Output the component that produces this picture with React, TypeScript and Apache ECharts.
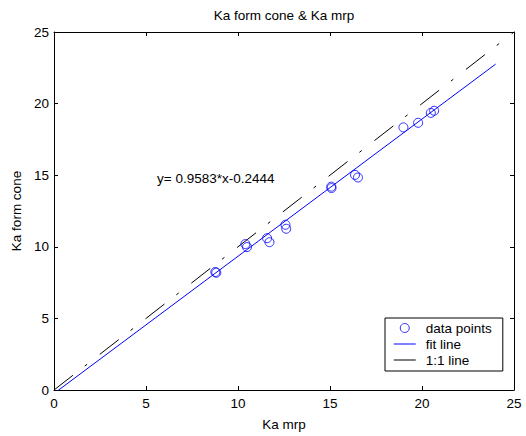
import React, { useEffect, useRef } from "react";
import * as echarts from "echarts";

// Data
const kaMrp = [8.77, 8.82, 10.4, 10.49, 11.58, 11.71, 12.58, 12.62, 15.07, 15.08, 16.36, 16.52, 18.99, 19.79, 20.48, 20.66];
const kaCone = [8.24, 8.19, 10.19, 9.98, 10.6, 10.32, 11.54, 11.26, 14.2, 14.1, 15.02, 14.84, 18.34, 18.66, 19.35, 19.5];
const fitSlope = 0.9583;
const fitIntercept = -0.2444;
const fitXRange = [0, 24];
const oneToOneRange = [0, 25];
const axisMin = 0;
const axisMax = 25;
const axisInterval = 5;
const titleText = "Ka form cone & Ka mrp";
const xName = "Ka mrp";
const yName = "Ka form cone";
const legendNames = ["data points", "fit line", "1:1 line"];
const equationText = `y= ${fitSlope}*x${fitIntercept}`;

const FONT = "'Liberation Sans', Arial, Helvetica, sans-serif";
const FS = 13.5;

export default function App() {
  const ref = useRef<HTMLDivElement>(null);
  useEffect(() => {
    if (!ref.current) return;
    const chart = echarts.init(ref.current, undefined, { renderer: "svg" });
    const points = kaMrp.map((x, i) => [x, kaCone[i]]);
    const fitLine = fitXRange.map((x) => [x, fitSlope * x + fitIntercept]);
    const idLine = oneToOneRange.map((x) => [x, x]);
    const axisCommon = {
      type: "value",
      min: axisMin,
      max: axisMax,
      interval: axisInterval,
      splitLine: { show: false },
      axisLine: { show: true, onZero: false, lineStyle: { color: "#000", width: 1 } },
      axisTick: { show: true, inside: true, length: 4, lineStyle: { color: "#000" } },
    };
    const hiddenSymbol = { color: "rgba(0,0,0,0)", borderWidth: 0, opacity: 0 };
    chart.setOption({
      animation: false,
      textStyle: { fontFamily: FONT },
      grid: { left: 54, right: 12, top: 32, bottom: 40 },
      xAxis: [
        {
          ...axisCommon,
          position: "bottom",
          name: xName,
          nameLocation: "middle",
          nameGap: 27,
          nameTextStyle: { color: "#000", fontSize: FS, fontFamily: FONT },
          axisLabel: { color: "#000", fontSize: FS, fontFamily: FONT, margin: 6 },
        },
        {
          ...axisCommon,
          position: "top",
          axisLabel: { show: false },
        },
      ],
      yAxis: [
        {
          ...axisCommon,
          position: "left",
          name: yName,
          nameLocation: "middle",
          nameGap: 22,
          nameTextStyle: { color: "#000", fontSize: FS, fontFamily: FONT },
          axisLabel: { color: "#000", fontSize: FS, fontFamily: FONT, margin: 5 },
        },
        {
          ...axisCommon,
          position: "right",
          axisLabel: { show: false },
        },
      ],
      legend: {
        orient: "vertical",
        left: 385,
        top: 318,
        backgroundColor: "#fff",
        borderColor: "#000",
        borderWidth: 1,
        borderRadius: 0,
        padding: [3, 11, 4, 8],
        itemWidth: 22,
        itemHeight: 9,
        itemGap: 2,
        textStyle: { color: "#000", fontSize: FS, fontFamily: FONT, padding: [0, 0, 0, 5] },
        data: [
          { name: legendNames[0], icon: "circle", itemStyle: { color: "rgba(0,0,0,0)", borderColor: "#0000ff", borderWidth: 1 } },
          { name: legendNames[1], itemStyle: hiddenSymbol, lineStyle: { color: "#0000ff", width: 1, type: "solid" } },
          { name: legendNames[2], itemStyle: hiddenSymbol, lineStyle: { color: "#555", width: 1.5, type: "solid" } },
        ],
      },
      graphic: [
        {
          type: "text",
          x: 284,
          y: 15,
          style: {
            text: titleText,
            fill: "#000",
            font: `${FS}px ${FONT}`,
            textAlign: "center",
            textVerticalAlign: "middle",
          },
        },
        {
          type: "text",
          x: 157,
          y: 178,
          style: {
            text: equationText,
            fill: "#000",
            font: `${FS}px ${FONT}`,
            textAlign: "left",
            textVerticalAlign: "middle",
          },
        },
      ],
      series: [
        {
          name: legendNames[0],
          type: "scatter",
          data: points,
          symbol: "circle",
          symbolSize: 9,
          itemStyle: { color: "rgba(0,0,0,0)", borderColor: "#0000ff", borderWidth: 1 },
          z: 3,
        },
        {
          name: legendNames[1],
          type: "line",
          data: fitLine,
          symbol: "none",
          clip: true,
          lineStyle: { color: "#0000ff", width: 1 },
          itemStyle: { color: "#0000ff" },
          z: 2,
        },
        {
          name: legendNames[2],
          type: "line",
          data: idLine,
          symbol: "none",
          clip: true,
          lineStyle: { color: "#000", width: 1, type: [24, 15, 3, 16] },
          itemStyle: { color: "#000" },
          z: 2,
        },
      ],
    });
    return () => chart.dispose();
  }, []);
  return (
    <div
      ref={ref}
      style={{ position: "fixed", left: 0, top: 0, width: 526, height: 436, background: "#fff" }}
    />
  );
}
